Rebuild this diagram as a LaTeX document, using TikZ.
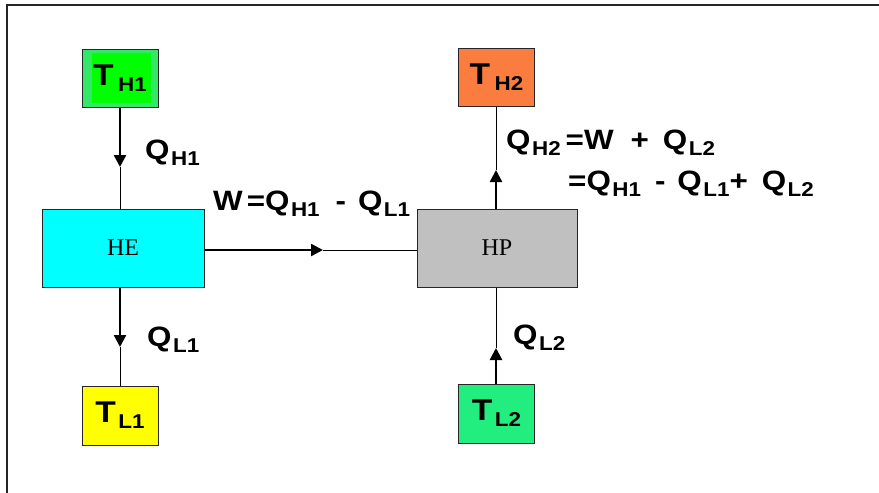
\documentclass[tikz,border=0pt]{standalone}
\usepackage{fontspec}
\setmainfont[FakeStretch=1.12]{Liberation Sans}
\newfontfamily\seriffam{Liberation Serif}
\usetikzlibrary{arrows.meta}
\definecolor{th1out}{HTML}{33E866}
\definecolor{th1in}{HTML}{00FF00}
\definecolor{th2col}{HTML}{FA7C3E}
\definecolor{tl1col}{HTML}{FFFF00}
\definecolor{tl2col}{HTML}{22EE80}
\definecolor{hecol}{HTML}{00FFFF}
\definecolor{hpcol}{HTML}{C0C0C0}
\newcommand\bigf{\fontsize{28}{28}\selectfont\bfseries}
\newcommand\bigt{\fontsize{30}{30}\selectfont\bfseries}
\newcommand\subs[1]{\raisebox{-6pt}{\fontsize{20}{20}\selectfont\bfseries #1}}
\newcommand\lab[2]{{\bigf #1}\hspace{1.5pt}\subs{#2}}
\newcommand\tlab[2]{{\bigt #1}\hspace{1.5pt}\subs{#2}}
\begin{document}
\begin{tikzpicture}[x=1pt,y=-1pt,
  box/.style={draw=black!85,line width=1pt,inner sep=0pt,anchor=center},
  tbox/.style={box,minimum width=76pt,minimum height=58pt},
  engine/.style={box,minimum width=161pt,minimum height=78pt,font=\seriffam\fontsize{24}{24}\selectfont},
  heavy/.style={line width=2.5pt,-{Triangle[length=12pt,width=12pt]}},
  light/.style={line width=1pt},
  lbl/.style={inner sep=0pt,anchor=base west}]
\useasboundingbox (0,0) rectangle (879,493);
\draw[line width=2pt,black!85] (7,493) -- (7,5) -- (879,5);

\node[tbox,fill=th1out,path picture={\fill[th1in] ([xshift=10pt,yshift=-3pt]path picture bounding box.north west) rectangle ([xshift=-7pt,yshift=5pt]path picture bounding box.south east);}] (TH1) at (120,78.5) {\tlab{T}{\hspace{3pt}H1}};
\node[tbox,fill=tl1col,minimum height=59pt] (TL1) at (120,415.5) {\tlab{T}{\hspace{1pt}L1}};
\node[tbox,fill=th2col] (TH2) at (496.5,77) {\tlab{T}{\hspace{3pt}H2}};
\node[tbox,fill=tl2col,minimum height=59pt] (TL2) at (496.5,413.5) {\tlab{T}{\hspace{1pt}L2}};
\node[engine,fill=hecol,minimum width=162pt] (HE) at (123,248) {HE};
\node[engine,fill=hpcol,minimum width=160pt] (HP) at (497,248) {HP};

\coordinate (a1) at (120,167);
\coordinate (a2) at (120,347);
\coordinate (a3) at (323,250);
\coordinate (a4) at (496,170);
\coordinate (a5) at (496,348);

\draw[heavy] (TH1.south) -- (a1);
\draw[light] (a1) -- (a1 |- HE.north);
\draw[heavy] (a2 |- HE.south) -- (a2);
\draw[light] (a2) -- (TL1.north);
\draw[heavy] (a3 -| HE.east) -- (a3);
\draw[light] (a3) -- (a3 -| HP.west);
\draw[heavy] (a4 |- HP.north) -- (a4);
\draw[light] (a4) -- (a4 |- TH2.south);
\draw[heavy] (a5 |- TL2.north) -- (a5);
\draw[light] (a5) -- (a5 |- HP.south);

\node[lbl] (qh1) at (145,159) {\lab{Q}{H1}};
\node[lbl] (ql1) at (147,346) {\lab{Q}{L1}};
\node[lbl] (ql2) at (513,344) {\lab{Q}{L2}};
\node[lbl] (w) at (213,210) {{\bigf W\hspace{4pt}=Q}\hspace{1.5pt}\subs{H1}\hspace{16pt}{\bigf -}\hspace{12pt}\lab{Q}{L1}};
\node[lbl] (qh2a) at (506,149) {\lab{Q}{H2}\hspace{5pt}{\bigf =W}\hspace{17pt}{\bigf +}\hspace{14pt}\lab{Q}{L2}};
\node[lbl] (qh2b) at (568,190) {{\bigf =Q}\hspace{1.5pt}\subs{H1}\hspace{14pt}{\bigf -}\hspace{12pt}\lab{Q}{L1}{\bigf +}\hspace{14pt}\lab{Q}{L2}};
\end{tikzpicture}
\end{document}
